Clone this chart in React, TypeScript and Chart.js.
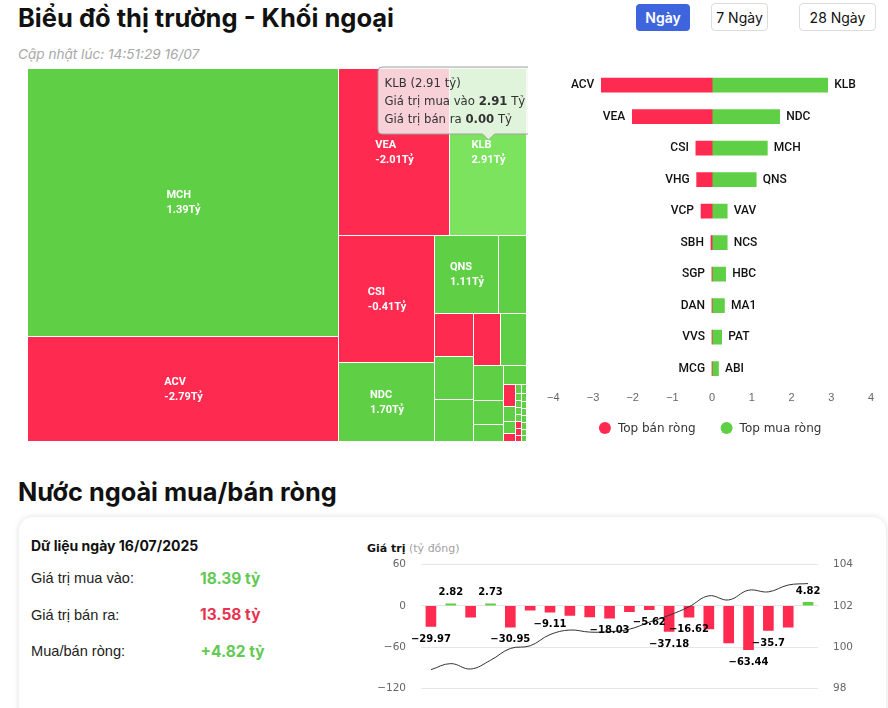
import React, { useEffect, useRef } from 'react';
import { Chart, registerables } from 'chart.js';

Chart.register(...registerables);

// ---------------- Data ----------------
// Treemap: traded value (mua + bán, tỷ) and net value (tỷ)
const tmNames = ['MCH', 'ACV', 'VEA', 'KLB', 'CSI', 'NDC', 'QNS', 'HBC', 'VHG', 'VAV', 'NCS', 'VCP', 'MA1', 'PAT', 'ABI', '', '', 'SBH', '', '', 'SGP', '', '', '', '', '', '', 'DAN', 'VVS', 'MCG', '', '', '', '', '', '', ''];
const tmTraded = [18.93, 7.4, 4.23, 2.91, 2.75, 1.7, 1.14, 0.49, 0.39, 0.38, 0.38, 0.31, 0.31, 0.24, 0.16, 0.115, 0.1, 0.059, 0.04, 0.032, 0.02, 0.012, 0.011, 0.011, 0.01, 0.01, 0.01, 0.01, 0.009, 0.009, 0.009, 0.009, 0.008, 0.008, 0.008, 0.007, 0.007];
const tmNet = [1.39, -2.79, -2.01, 2.91, -0.41, 1.7, 1.11, 0.34, -0.39, 0.38, 0.38, -0.28, 0.31, 0.24, 0.16, 0.1, 0.08, -0.03, 0.03, 0.02, -0.004, 0.01, 0.01, 0.01, 0.01, 0.01, 0.01, -0.003, -0.002, -0.002, 0.005, 0.005, 0.005, 0.005, 0.005, 0.005, 0.005];
const tmTooltipIndex = 3;

// Top net sell / buy
const sellNames = ['ACV', 'VEA', 'CSI', 'VHG', 'VCP', 'SBH', 'SGP', 'DAN', 'VVS', 'MCG'];
const sellValues = [-2.79, -2.01, -0.41, -0.39, -0.28, -0.03, -0.004, -0.003, -0.002, -0.002];
const buyNames = ['KLB', 'NDC', 'MCH', 'QNS', 'VAV', 'NCS', 'HBC', 'MA1', 'PAT', 'ABI'];
const buyValues = [2.91, 1.7, 1.39, 1.11, 0.38, 0.38, 0.34, 0.31, 0.24, 0.16];

// Daily net foreign flow (tỷ đồng) + index line
const netDates = ['19/06', '20/06', '23/06', '24/06', '25/06', '26/06', '27/06', '30/06', '01/07', '02/07', '03/07', '04/07', '07/07', '08/07', '09/07', '10/07', '11/07', '14/07', '15/07', '16/07'];
const netValues = [-29.97, 2.82, -16.5, 2.73, -30.95, -6.2, -9.11, -13.8, -16.2, -18.03, -8.6, -5.62, -37.18, -16.62, -33.5, -53.6, -63.44, -35.7, -30.8, 4.82];
const netShowLabel = [true, true, false, true, true, false, true, false, false, true, false, true, true, true, false, false, true, true, false, true];
const indexValues = [98.92, 99.21, 98.95, 99.37, 99.94, 100.07, 100.61, 100.83, 100.73, 100.75, 100.87, 101.21, 101.54, 101.95, 102.48, 102.28, 102.75, 102.67, 103.0, 103.07];

const summaryDate = '16/07/2025';
const totalBuy = 18.39;
const totalSell = 13.58;
const totalNet = 4.82;

const RED = '#ff2a50';
const GREEN = '#5fcf45';
const GREEN_HOVER = '#7be35e';

// ---------------- Treemap layout (squarified, alternating direction) ----------------
type TRect = { x: number; y: number; w: number; h: number };
function layoutTreemap(values: number[], W: number, H: number): TRect[] {
  const total = values.reduce((s, v) => s + v, 0);
  const out: TRect[] = [];
  const plot = { x: 0, y: 0 };
  const g = {
    width: W, height: H, direction: 0, total: 0, nW: 0, lW: 0, nH: 0, lH: 0,
    elArr: [] as number[],
    lp: { total: NaN, lH: 0, nH: 0, lW: 0, nW: 0, nR: 0, lR: 0 },
  };
  const ar = (w: number, h: number) => Math.max(w / h, h / w);
  const add = (el: number) => {
    g.lp.total = g.elArr.length ? g.elArr[g.elArr.length - 1] : NaN;
    g.total += el;
    if (g.direction === 0) {
      g.lW = g.nW;
      g.lp.lH = g.lp.total / g.lW;
      g.lp.lR = ar(g.lW, g.lp.lH);
      g.nW = g.total / g.height;
      g.lp.nH = g.lp.total / g.nW;
      g.lp.nR = ar(g.nW, g.lp.nH);
    } else {
      g.lH = g.nH;
      g.lp.lW = g.lp.total / g.lH;
      g.lp.lR = ar(g.lp.lW, g.lH);
      g.nH = g.total / g.width;
      g.lp.nW = g.lp.total / g.nH;
      g.lp.nR = ar(g.lp.nW, g.nH);
    }
    g.elArr.push(el);
  };
  const calc = (last: boolean) => {
    let gW = g.lW;
    let gH = g.lH;
    let keep = 0;
    if (last) {
      gW = g.nW;
      gH = g.nH;
    } else {
      keep = g.elArr[g.elArr.length - 1];
    }
    const end = g.elArr.length - 1;
    g.elArr.forEach((p, i) => {
      if (last || i < end) {
        let pW: number;
        let pH: number;
        if (g.direction === 0) {
          pW = gW;
          pH = p / pW;
        } else {
          pH = gH;
          pW = p / pH;
        }
        out.push({ x: plot.x, y: plot.y, w: pW, h: pH });
        if (g.direction === 0) plot.y += pH;
        else plot.x += pW;
      }
    });
    g.nW = 0;
    g.lW = 0;
    g.elArr = [];
    g.total = 0;
    if (g.direction === 0) g.width -= gW;
    else g.height -= gH;
    plot.y = H - g.height;
    plot.x = W - g.width;
    g.direction = 1 - g.direction;
    if (!last) add(keep);
  };
  values.forEach((v, i) => {
    add((v / total) * W * H);
    if (g.lp.nR > g.lp.lR) calc(false);
    if (i === values.length - 1) calc(true);
  });
  return out;
}

const fmt2 = (v: number) => v.toFixed(2);

const treemapPlugin = {
  id: 'treemapDraw',
  afterDatasetsDraw(chart: any) {
    const { ctx, chartArea: a, scales } = chart;
    const xs = scales.x;
    const ys = scales.y;
    const W = a.right - a.left;
    const H = a.bottom - a.top;
    const rects = layoutTreemap(tmTraded, W, H);
    const px = rects.map((r) => {
      const x0 = Math.round(xs.getPixelForValue((r.x / W) * 100));
      const x1 = Math.round(xs.getPixelForValue(((r.x + r.w) / W) * 100));
      const y0 = Math.round(ys.getPixelForValue((r.y / H) * 100));
      const y1 = Math.round(ys.getPixelForValue(((r.y + r.h) / H) * 100));
      return { x0, x1, y0, y1 };
    });
    ctx.save();
    px.forEach((p, i) => {
      const net = tmNet[i];
      ctx.fillStyle = net < 0 ? RED : i === tmTooltipIndex ? GREEN_HOVER : GREEN;
      ctx.fillRect(p.x0, p.y0, Math.max(p.x1 - p.x0 - 1, 0), Math.max(p.y1 - p.y0 - 1, 0));
    });
    // labels
    ctx.font = 'bold 11px Roboto';
    ctx.fillStyle = '#ffffff';
    ctx.textBaseline = 'middle';
    ctx.textAlign = 'left';
    px.forEach((p, i) => {
      const w = p.x1 - p.x0;
      const h = p.y1 - p.y0;
      if (w < 50 || h < 45 || !tmNames[i]) return;
      const lines = [tmNames[i], fmt2(tmNet[i]) + 'Tỷ'];
      const bw = Math.max(...lines.map((l) => ctx.measureText(l).width));
      const cx = (p.x0 + p.x1) / 2;
      const cy = (p.y0 + p.y1) / 2;
      lines.forEach((l, k) => ctx.fillText(l, cx - bw / 2, cy + (k - 0.5) * 15));
    });
    // tooltip for the hovered cell
    const k = tmTooltipIndex;
    const p = px[k];
    const cx = (p.x0 + p.x1) / 2;
    const cy = (p.y0 + p.y1) / 2;
    const buy = (tmTraded[k] + tmNet[k]) / 2;
    const sell = (tmTraded[k] - tmNet[k]) / 2;
    const normal = '11.7px "DejaVu Sans"';
    const bold = 'bold 11.7px "DejaVu Sans"';
    const rows: { t: string; b?: boolean }[][] = [
      [{ t: `${tmNames[k]} (${fmt2(tmTraded[k])} tỷ)` }],
      [{ t: 'Giá trị mua vào ' }, { t: fmt2(buy), b: true }, { t: ' Tỷ' }],
      [{ t: 'Giá trị bán ra ' }, { t: fmt2(sell), b: true }, { t: ' Tỷ' }],
    ];
    let maxW = 0;
    rows.forEach((r) => {
      let w = 0;
      r.forEach((s) => {
        ctx.font = s.b ? bold : normal;
        w += ctx.measureText(s.t).width;
      });
      maxW = Math.max(maxW, w);
    });
    const bx = cx - 110.5;
    const by = cy - 85.5;
    const bw = maxW + 16;
    const bh = 67;
    ctx.beginPath();
    const r0 = 4;
    ctx.moveTo(bx + r0, by);
    ctx.lineTo(bx + bw - r0, by);
    ctx.quadraticCurveTo(bx + bw, by, bx + bw, by + r0);
    ctx.lineTo(bx + bw, by + bh - r0);
    ctx.quadraticCurveTo(bx + bw, by + bh, bx + bw - r0, by + bh);
    ctx.lineTo(cx + 6, by + bh);
    ctx.lineTo(cx, by + bh + 6);
    ctx.lineTo(cx - 6, by + bh);
    ctx.lineTo(bx + r0, by + bh);
    ctx.quadraticCurveTo(bx, by + bh, bx, by + bh - r0);
    ctx.lineTo(bx, by + r0);
    ctx.quadraticCurveTo(bx, by, bx + r0, by);
    ctx.closePath();
    ctx.fillStyle = 'rgba(247,247,247,0.82)';
    ctx.fill();
    ctx.strokeStyle = '#a0a0a0';
    ctx.lineWidth = 1;
    ctx.stroke();
    ctx.fillStyle = '#333333';
    ctx.textBaseline = 'middle';
    rows.forEach((r, ri) => {
      let x = bx + 6.5;
      const y = by + 16.5 + ri * 18;
      r.forEach((s) => {
        ctx.font = s.b ? bold : normal;
        ctx.fillText(s.t, x, y);
        x += ctx.measureText(s.t).width;
      });
    });
    ctx.restore();
  },
};

function TreemapChart() {
  const ref = useRef<HTMLCanvasElement>(null);
  useEffect(() => {
    const chart = new Chart(ref.current as HTMLCanvasElement, {
      type: 'scatter',
      data: { datasets: [{ data: [] }] },
      options: {
        animation: false,
        responsive: false,
        maintainAspectRatio: false,
        events: [],
        layout: { padding: { top: 9, left: 1, right: 1, bottom: 1 } },
        scales: {
          x: { type: 'linear', min: 0, max: 100, display: false },
          y: { type: 'linear', min: 0, max: 100, reverse: true, display: false },
        },
        plugins: { legend: { display: false }, tooltip: { enabled: false } },
      },
      plugins: [treemapPlugin],
    } as any);
    return () => chart.destroy();
  }, []);
  return <canvas ref={ref} width={501} height={383} style={{ position: 'absolute', left: 27, top: 60 }} />;
}

// ---------------- Top buy/sell bar chart ----------------
const barNamesPlugin = {
  id: 'barNames',
  afterDatasetsDraw(chart: any) {
    const { ctx } = chart;
    const sellMeta = chart.getDatasetMeta(0);
    const buyMeta = chart.getDatasetMeta(1);
    ctx.save();
    ctx.font = '500 12px Roboto';
    ctx.fillStyle = '#111111';
    ctx.textBaseline = 'middle';
    sellMeta.data.forEach((el: any, i: number) => {
      ctx.textAlign = 'right';
      ctx.fillText(sellNames[i], Math.min(el.x, el.base) - 7, el.y);
    });
    buyMeta.data.forEach((el: any, i: number) => {
      ctx.textAlign = 'left';
      ctx.fillText(buyNames[i], Math.max(el.x, el.base) + 6.5, el.y);
    });
    // legend
    ctx.font = '12px "DejaVu Sans"';
    const items = chart.data.datasets.map((d: any) => ({ label: d.label, color: d.backgroundColor }));
    const widths = items.map((it: any) => 19 + ctx.measureText(it.label).width);
    const gap = 25;
    const total = widths.reduce((s: number, w: number) => s + w, 0) + gap * (items.length - 1);
    const ca = chart.chartArea;
    let x = (ca.left + ca.right) / 2 - total / 2 - 2;
    const y = chart.height - 16;
    ctx.textAlign = 'left';
    items.forEach((it: any, i: number) => {
      ctx.beginPath();
      ctx.arc(x + 6, y, 6, 0, Math.PI * 2);
      ctx.fillStyle = it.color;
      ctx.fill();
      ctx.fillStyle = '#333333';
      ctx.fillText(it.label, x + 19, y + 0.5);
      x += widths[i] + gap;
    });
    ctx.restore();
  },
};

function TopBarChart() {
  const ref = useRef<HTMLCanvasElement>(null);
  useEffect(() => {
    const chart = new Chart(ref.current as HTMLCanvasElement, {
      type: 'bar',
      data: {
        labels: sellNames,
        datasets: [
          { label: 'Top bán ròng', data: sellValues, backgroundColor: RED, barThickness: 14, borderWidth: 0 },
          { label: 'Top mua ròng', data: buyValues, backgroundColor: GREEN, barThickness: 14, borderWidth: 0 },
        ],
      },
      options: {
        animation: false,
        responsive: false,
        maintainAspectRatio: false,
        indexAxis: 'y',
        events: [],
        layout: { padding: { top: 9.4, left: 10, right: 17, bottom: 32.5 } },
        scales: {
          x: {
            type: 'linear',
            min: -4,
            max: 4,
            stacked: true,
            grid: { display: false, drawTicks: false },
            border: { display: false },
            ticks: {
              stepSize: 1,
              padding: 7,
              color: '#666666',
              font: { family: '"Liberation Sans"', size: 11 },
              callback: (v: any) => (Number(v) < 0 ? '\u2212' + Math.abs(Number(v)) : String(v)),
            },
          },
          y: { stacked: true, display: false },
        },
        plugins: { legend: { display: false }, tooltip: { enabled: false } },
      },
      plugins: [barNamesPlugin],
    } as any);
    return () => chart.destroy();
  }, []);
  return <canvas ref={ref} width={348} height={384} style={{ position: 'absolute', left: 540, top: 60 }} />;
}

// ---------------- Net flow chart ----------------
const netLabelPlugin = {
  id: 'netLabels',
  afterDatasetsDraw(chart: any) {
    const { ctx } = chart;
    const meta = chart.getDatasetMeta(1);
    ctx.save();
    ctx.font = 'bold 10px "DejaVu Sans"';
    ctx.fillStyle = '#000000';
    ctx.textAlign = 'center';
    ctx.textBaseline = 'middle';
    meta.data.forEach((el: any, i: number) => {
      if (!netShowLabel[i]) return;
      const v = netValues[i];
      const txt = v < 0 ? '\u2212' + String(Math.abs(v)) : String(v);
      const y = v < 0 ? el.y + 12.5 : el.y - 11;
      ctx.fillText(txt, el.x, y);
    });
    ctx.restore();
  },
};

function NetFlowChart() {
  const ref = useRef<HTMLCanvasElement>(null);
  useEffect(() => {
    const chart = new Chart(ref.current as HTMLCanvasElement, {
      type: 'bar',
      data: {
        labels: netDates,
        datasets: [
          {
            type: 'line',
            label: 'Chỉ số',
            data: indexValues,
            yAxisID: 'y1',
            borderColor: '#333333',
            borderWidth: 1,
            pointRadius: 0,
            tension: 0.4,
            fill: false,
            order: 0,
          },
          {
            type: 'bar',
            label: 'Giá trị',
            data: netValues,
            yAxisID: 'y',
            backgroundColor: netValues.map((v) => (v >= 0 ? GREEN : RED)),
            barThickness: 10,
            borderWidth: 0,
            order: 1,
          },
        ],
      },
      options: {
        animation: false,
        responsive: false,
        maintainAspectRatio: false,
        events: [],
        layout: { padding: { top: 34.3, left: 0, right: 0, bottom: 11.7 } },
        scales: {
          x: { display: false },
          y: {
            position: 'left',
            min: -120,
            max: 60,
            grid: { color: '#e6e6e6', drawTicks: false },
            border: { display: false },
            ticks: {
              stepSize: 60,
              padding: 15,
              color: '#666666',
              font: { family: '"DejaVu Sans"', size: 10.5 },
              callback: (v: any) => (Number(v) < 0 ? '\u2212' + Math.abs(Number(v)) : String(v)),
            },
            afterFit: (s: any) => {
              s.width = 61;
            },
          },
          y1: {
            position: 'right',
            min: 98,
            max: 104,
            grid: { display: false, drawTicks: false },
            border: { display: false },
            ticks: {
              stepSize: 2,
              padding: 15,
              color: '#666666',
              font: { family: '"DejaVu Sans"', size: 10.5 },
            },
            afterFit: (s: any) => {
              s.width = 70;
            },
          },
        },
        plugins: { legend: { display: false }, tooltip: { enabled: false } },
      },
      plugins: [netLabelPlugin],
    } as any);
    return () => chart.destroy();
  }, []);
  return <canvas ref={ref} width={528} height={180} style={{ position: 'absolute', left: 360, top: 530 }} />;
}

// ---------------- Page ----------------
const abs = (left: number, top: number, extra: React.CSSProperties = {}): React.CSSProperties => ({
  position: 'absolute',
  left,
  top,
  whiteSpace: 'nowrap',
  lineHeight: 1,
  ...extra,
});

const rangeButtons = ['Ngày', '7 Ngày', '28 Ngày'];
const btnBox = [
  { left: 636, top: 4, width: 54, height: 27 },
  { left: 711, top: 3, width: 57, height: 28 },
  { left: 799, top: 3, width: 77, height: 28 },
];

export default function App() {
  const inter = 'Inter, "Noto Sans", sans-serif';
  const body = '"Liberation Sans", Arial, sans-serif';
  return (
    <div style={{ position: 'absolute', left: 0, top: 0, width: 888, height: 708, overflow: 'hidden', background: '#ffffff', fontFamily: inter }}>
      <div style={abs(18, 5, { fontSize: 25.5, fontWeight: 700, color: '#111' })}>Biểu đồ thị trường - Khối ngoại</div>
      <div style={abs(18, 47.5, { fontSize: 13.6, fontStyle: 'italic', color: '#a8a8a8' })}>Cập nhật lúc: 14:51:29 16/07</div>
      {rangeButtons.map((b, i) => (
        <div
          key={b}
          style={{
            position: 'absolute',
            ...btnBox[i],
            boxSizing: 'border-box',
            borderRadius: 4,
            border: i === 0 ? 'none' : '1px solid #dcdcdc',
            background: i === 0 ? '#3e64de' : '#ffffff',
            color: i === 0 ? '#ffffff' : '#111111',
            display: 'flex',
            alignItems: 'center',
            justifyContent: 'center',
            fontSize: 14,
            fontWeight: i === 0 ? 600 : 400,
          }}
        >
          {b}
        </div>
      ))}

      <TreemapChart />
      <TopBarChart />

      <div style={abs(18, 479.4, { fontSize: 25.3, fontWeight: 700, color: '#111' })}>Nước ngoài mua/bán ròng</div>

      <div
        style={{
          position: 'absolute',
          left: 19,
          top: 517,
          width: 867,
          height: 260,
          borderRadius: 14,
          background: '#ffffff',
          boxShadow: '0 0 6px rgba(0,0,0,0.13)',
        }}
      />
      <div style={abs(31, 538.9, { fontSize: 14, fontWeight: 700, color: '#111' })}>Dữ liệu ngày {summaryDate}</div>
      <div style={abs(31, 571.3, { fontSize: 14.6, color: '#222', fontFamily: body })}>Giá trị mua vào:</div>
      <div style={abs(200, 570.6, { fontSize: 15.5, fontWeight: 700, color: '#62c953' })}>{fmt2(totalBuy)} tỷ</div>
      <div style={abs(31, 607.8, { fontSize: 14.6, color: '#222', fontFamily: body })}>Giá trị bán ra:</div>
      <div style={abs(200, 607.1, { fontSize: 15.5, fontWeight: 700, color: '#e8334f' })}>{fmt2(totalSell)} tỷ</div>
      <div style={abs(31, 644.3, { fontSize: 14.6, color: '#222', fontFamily: body })}>Mua/bán ròng:</div>
      <div style={abs(200.5, 643.6, { fontSize: 15.5, fontWeight: 700, color: '#62c953' })}>{(totalNet >= 0 ? '+' : '') + fmt2(totalNet)} tỷ</div>

      <div style={abs(367, 543.4, { fontSize: 11, fontFamily: '"DejaVu Sans"', color: '#111' })}>
        <span style={{ fontWeight: 700 }}>Giá trị</span> <span style={{ color: '#a0a0a0' }}>(tỷ đồng)</span>
      </div>
      <NetFlowChart />
    </div>
  );
}
